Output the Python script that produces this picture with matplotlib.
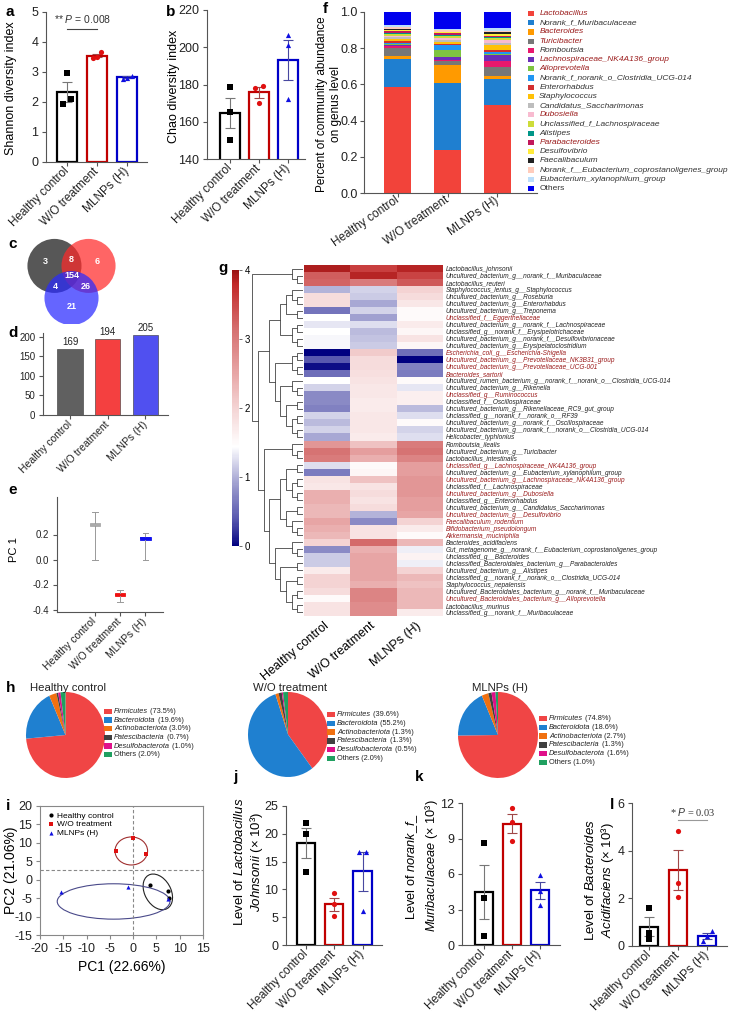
import matplotlib
matplotlib.use("Agg")
import matplotlib.pyplot as plt
import numpy as np
from matplotlib.colors import LinearSegmentedColormap
from matplotlib.patches import Ellipse, Circle, Rectangle

plt.rcParams['font.family'] = ['Liberation Sans', 'DejaVu Sans']
plt.rcParams['mathtext.fontset'] = 'custom'
plt.rcParams['mathtext.rm'] = 'Liberation Sans'
plt.rcParams['mathtext.it'] = 'Liberation Sans:italic'
plt.rcParams['mathtext.bf'] = 'Liberation Sans:bold'
plt.rcParams['axes.unicode_minus'] = False

# ---------------- data ----------------
groups = ["Healthy control", "W/O treatment", "MLNPs (H)"]

shannon = [[2.97, 2.10, 1.93], [3.65, 3.50, 3.47], [2.88, 2.80, 2.78]]
chao = [[178.7, 165.2, 150.2], [179.2, 178.0, 170.0], [206.6, 201.0, 172.0]]

# venn regions: HC only, HC&WO, WO only, all, HC&ML, WO&ML, ML only
venn_counts = [3, 8, 6, 154, 4, 26, 21]
otu_counts = [169, 194, 205]

pc1_med = [0.28, -0.28, 0.17]
pc1_q1 = [0.27, -0.29, 0.16]
pc1_q3 = [0.29, -0.27, 0.18]
pc1_lo = [0.00, -0.34, 0.00]
pc1_hi = [0.38, -0.24, 0.21]

genera = ["Lactobacillus", "Norank_f_Muribaculaceae", "Bacteroides", "Turicibacter",
          "Romboutsia", "Lachnospiraceae_NK4A136_group", "Alloprevotella",
          "Norank_f_norank_o_Clostridia_UCG-014", "Enterorhabdus", "Staphylococcus",
          "Candidatus_Saccharimonas", "Dubosiella", "Unclassified_f_Lachnospiraceae",
          "Alistipes", "Parabacteroides", "Desulfovibrio", "Faecalibaculum",
          "Norank_f__Eubacterium_coprostanoligenes_group", "Eubacterium_xylanophilum_group",
          "Others"]
genus_red = [0, 2, 3, 5, 6, 11, 14]
genus_colors = ["#f2433a", "#1f7fd0", "#ff9a00", "#777777", "#e8186d", "#6a2eb8", "#7ec440",
                "#2196f3", "#d32f2f", "#ffc107", "#bdbdbd", "#f8bbd0", "#cddc39", "#009688",
                "#c2185b", "#ffeb3b", "#212121", "#ffccbc", "#bbdefb", "#0000ee"]
genus_hc = [0.584, 0.154, 0.017, 0.045, 0.012, 0.008, 0.002, 0.008, 0.012, 0.008,
            0.010, 0.010, 0.006, 0.008, 0.010, 0.004, 0.008, 0.010, 0.010, 0.074]
genus_wo = [0.237, 0.369, 0.103, 0.021, 0.005, 0.016, 0.037, 0.031, 0.006, 0.010,
            0.010, 0.012, 0.008, 0.008, 0.012, 0.003, 0.004, 0.010, 0.002, 0.096]
genus_ml = [0.485, 0.143, 0.017, 0.051, 0.031, 0.033, 0.006, 0.015, 0.010, 0.025,
            0.010, 0.020, 0.010, 0.006, 0.006, 0.012, 0.010, 0.005, 0.015, 0.090]

heat_labels = [
    "Lactobacillus_johnsonii", "Uncultured_bacterium_g__norank_f__Muribaculaceae",
    "Lactobacillus_reuteri", "Staphylococcus_lentus_g__Staphylococcus",
    "Uncultured_bacterium_g__Roseburia", "Uncultured_bacterium_g__Enterorhabdus",
    "Uncultured_bacterium_g__Treponema", "Unclassified_f__Eggerthellaceae",
    "Uncultured_bacterium_g__norank_f__Lachnospiraceae", "Unclassified_g__norank_f__Erysipelotrichaceae",
    "Uncultured_bacterium_g__norank_f__Desulfovibrionaceae", "Uncultured_bacterium_g__Erysipelatoclostridium",
    "Escherichia_coli_g__Escherichia-Shigella", "Uncultured_bacterium_g__Prevotellaceae_NK3B31_group",
    "Uncultured_bacterium_g__Prevotellaceae_UCG-001", "Bacteroides_sartorii",
    "Uncultured_rumen_bacterium_g__norank_f__norank_o__Clostridia_UCG-014",
    "Uncultured_bacterium_g__Rikenella", "Unclassified_g__Ruminococcus",
    "Unclassified_f__Oscillospiraceae", "Uncultured_bacterium_g__Rikenellaceae_RC9_gut_group",
    "Unclassified_g__norank_f__norank_o__RF39", "Uncultured_bacterium_g__norank_f__Oscillospiraceae",
    "Uncultured_bacterium_g__norank_f__norank_o__Clostridia_UCG-014", "Helicobacter_typhlonius",
    "Romboutsia_ilealis", "Uncultured_bacterium_g__Turicibacter", "Lactobacillus_intestinalis",
    "Unclassified_g__Lachnospiraceae_NK4A136_group", "Uncultured_bacterium_g__Eubacterium_xylanophilum_group",
    "Uncultured_bacterium_g__Lachnospiraceae_NK4A136_group", "Unclassified_f__Lachnospiraceae",
    "Uncultured_bacterium_g__Dubosiella", "Unclassified_g__Enterorhabdus",
    "Uncultured_bacterium_g__Candidatus_Saccharimonas", "Uncultured_bacterium_g__Desulfovibrio",
    "Faecalibaculum_rodentium", "Bifidobacterium_pseudolongum", "Akkermansia_muciniphila",
    "Bacteroides_acidifaciens", "Gut_metagenome_g__norank_f__Eubacterium_coprostanoligenes_group",
    "Unclassified_g__Bacteroides", "Unclassified_Bacteroidales_bacterium_g__Parabacteroides",
    "Uncultured_bacterium_g__Alistipes", "Unclassified_g__norank_f__norank_o__Clostridia_UCG-014",
    "Staphylococcus_nepalensis", "Uncultured_Bacteroidales_bacterium_g__norank_f__Muribaculaceae",
    "Uncultured_Bacteroidales_bacterium_g__Alloprevotella", "Lactobacillus_murinus",
    "Unclassified_g__norank_f__Muribaculaceae"]
heat_red = [7, 12, 13, 14, 15, 18, 28, 30, 32, 35, 36, 37, 38, 47]
heat_hc = [3.9, 3.3, 3.25, 1.0, 1.9, 1.9, 0.6, 1.45, 1.3, 1.45,
           1.4, 1.4, 0.0, 0.4, 0.05, 0.55, 1.45, 1.2, 0.75, 0.75,
           0.7, 1.2, 1.05, 1.2, 0.95, 2.7, 3.1, 3.0, 1.25, 0.65,
           1.8, 1.75, 2.4, 2.4, 2.3, 2.3, 2.5, 2.4, 2.3, 2.0,
           0.75, 1.15, 1.15, 1.7, 2.0, 2.0, 1.9, 1.5, 1.8, 1.8]
heat_wo = [3.6, 3.85, 3.0, 1.2, 1.15, 0.95, 1.2, 0.9, 1.25, 1.05,
           1.1, 1.15, 2.1, 1.9, 1.9, 1.85, 1.8, 1.75, 1.75, 1.7,
           1.7, 1.75, 1.75, 1.75, 1.7, 2.2, 2.6, 2.4, 1.5, 1.55,
           2.2, 1.8, 1.9, 1.8, 1.9, 1.0, 0.75, 1.8, 1.8, 3.2,
           2.4, 2.5, 2.5, 2.5, 2.5, 2.4, 2.9, 2.9, 2.8, 2.8]
heat_ml = [3.85, 3.55, 3.35, 2.0, 1.9, 1.75, 1.5, 1.5, 1.7, 1.55,
           1.8, 1.55, 0.55, 0.0, 0.7, 0.65, 1.5, 1.3, 1.65, 1.65,
           1.05, 1.25, 1.5, 1.2, 1.25, 3.0, 3.1, 2.9, 2.6, 2.6,
           2.7, 2.7, 2.7, 2.6, 2.6, 2.5, 2.0, 1.7, 1.5, 2.3,
           1.35, 1.6, 1.35, 2.0, 2.3, 2.2, 2.3, 2.3, 2.3, 1.7]
# row clustering tree (row indices)
heat_tree = [[0, [1, 2]],
             [[[[[3, [4, 5]], [6, 7]], [[8, 9], [10, 11]]],
               [[[12, 13], [14, 15]], [[16, [17, 18]], [[19, 20], [[21, 22], [23, 24]]]]]],
              [[25, [26, 27]],
               [[[[28, 29], [[30, 31], [32, 33]]], [[34, 35], [36, [37, 38]]]],
                [[39, [40, 41]], [[42, 43], [[44, 45], [[46, 47], [48, 49]]]]]]]]]

phyla = ["Firmicutes", "Bacteroidota", "Actinobacteriota", "Patescibacteria", "Desulfobacterota", "Others"]
phyla_colors = ["#f04545", "#1f80d0", "#f07010", "#404040", "#e0108a", "#20a060"]
phyla_hc = [73.5, 19.6, 3.0, 0.7, 1.0, 2.0]
phyla_wo = [39.6, 55.2, 1.3, 1.3, 0.5, 2.0]
phyla_ml = [74.8, 18.6, 2.7, 1.3, 1.6, 1.0]

pca_x = [[3.7, 7.4, 7.6], [-3.7, 0.0, 2.7], [-15.4, -1.2, 7.5]]
pca_y = [[-1.4, -3.1, -5.0], [7.9, 11.2, 7.0], [-3.4, -1.9, -5.2]]
ell_cx = [5.3, -0.4, -4.2]
ell_cy = [-3.3, 7.8, -5.9]
ell_w = [5.8, 7.0, 24.2]
ell_h = [10.0, 7.6, 9.6]
ell_ang = [18, 0, 0]

johnsonii = [[22.0, 20.0, 13.2], [9.3, 7.3, 5.3], [16.8, 16.8, 6.1]]
muribac = [[8.6, 4.0, 0.76], [11.6, 10.4, 8.8], [5.9, 4.6, 3.4]]
acidif = [[1.6, 0.55, 0.28], [4.83, 2.64, 2.07], [0.65, 0.42, 0.22]]

# ---------------- helpers ----------------
W, H = 732, 1015
fig = plt.figure(figsize=(W / 100, H / 100), dpi=100)

def box(l, t, r, b):
    return fig.add_axes([l / W, 1 - b / H, (r - l) / W, (b - t) / H])

def ftext(x, y, s, **kw):
    return fig.text(x / W, 1 - y / H, s, **kw)

def style(ax, size=9, pad=2.5):
    ax.spines['top'].set_visible(False)
    ax.spines['right'].set_visible(False)
    for s in ('left', 'bottom'):
        ax.spines[s].set_color('#555555')
        ax.spines[s].set_linewidth(0.8)
    ax.tick_params(color='#555555', labelcolor='#222222', labelsize=size, width=0.8, length=3, pad=pad)

def group_ticks(ax, size=8.5, rot=45):
    ax.set_xticks(range(3))
    ax.set_xticklabels(groups, rotation=rot, ha='right', va='center', rotation_mode='anchor', fontsize=size)

def spread(vals, span):
    vals = np.asarray(vals, dtype=float)
    off = np.zeros(len(vals))
    order = np.argsort(vals)
    for a, b in zip(order[:-1], order[1:]):
        if abs(vals[b] - vals[a]) < 0.04 * span:
            off[a] -= 0.14
            off[b] += 0.14
    return off

edge_cols = ['#000000', '#c00000', '#0000c8']
dot_cols = ['#000000', '#e01010', '#1010e0']
err_cols = ['#777777', '#a04848', '#4848a0']
markers = ['s', 'o', '^']

def dot_bars(ax, pts, span, width=0.66):
    for i, p in enumerate(pts):
        p = np.asarray(p)
        m = p.mean()
        se = p.std(ddof=1) / np.sqrt(len(p))
        ax.bar(i, m, width=width, color='white', edgecolor=edge_cols[i], linewidth=1.6, zorder=2)
        ax.errorbar(i, m, yerr=se, color=err_cols[i], lw=0.8, capsize=3.5, capthick=0.8, zorder=3)
        ax.scatter(i + spread(p, span), p, marker=markers[i], s=14, color=dot_cols[i], zorder=4, linewidths=0)

def panel_label(x, y, s):
    ftext(x, y, s, fontsize=11, fontweight='bold', va='center', ha='left')

# ---------------- a ----------------
ax = box(46, 12, 147, 162)
dot_bars(ax, shannon, 5)
style(ax)
ax.set_xlim(-0.7, 2.65)
ax.set_ylim(0, 5)
ax.set_yticks(range(6))
group_ticks(ax)
ax.plot([0, 1], [4.43, 4.43], color='#444444', lw=0.8)
ax.text(0.5, 4.75, r"** $\it{P}$ = 0.008", ha='center', va='center', fontsize=7.5, color='#333333')
ftext(11, 88, "Shannon diversity index", rotation=90, ha='center', va='center', fontsize=9)
panel_label(6, 12, "a")

# ---------------- b ----------------
ax = box(207, 10, 305, 159)
dot_bars(ax, chao, 80, width=0.69)
style(ax)
ax.set_xlim(-0.8, 2.6)
ax.set_ylim(140, 220)
ax.set_yticks([140, 160, 180, 200, 220])
group_ticks(ax)
ftext(174, 86, "Chao diversity index", rotation=90, ha='center', va='center', fontsize=9)
panel_label(166, 12, "b")

# ---------------- c (venn) ----------------
ax = box(25, 237, 118, 324)
ax.set_xlim(-1.72, 1.72)
ax.set_ylim(-1.74, 1.48)
ax.axis('off')
ax.add_patch(Circle((-0.63, 0.41), 1.0, color='#3a3a3a', alpha=0.85, lw=0))
ax.add_patch(Circle((0.63, 0.41), 1.0, color='#ff2a2a', alpha=0.72, lw=0))
ax.add_patch(Circle((0.0, -0.78), 1.0, color='#2a2aff', alpha=0.72, lw=0))
venn_pos = [(-0.96, 0.59), (0.0, 0.63), (0.96, 0.59), (0.0, 0.07), (-0.59, -0.37), (0.52, -0.37), (0.0, -1.1)]
for (vx, vy), n in zip(venn_pos, venn_counts):
    ax.text(vx, vy, str(n), color='white', fontsize=6.5, fontweight='bold', ha='center', va='center')
panel_label(8, 244, "c")

# ---------------- d ----------------
ax = box(43, 333, 168, 415)
ax.bar(range(3), otu_counts, width=0.67, color=['#606060', '#f44040', '#5050f0'], edgecolor='#333333', linewidth=0.4)
for i, v in enumerate(otu_counts):
    ax.text(i, v + 5, str(v), ha='center', va='bottom', fontsize=7, color='#222222')
style(ax, 7)
ax.set_xlim(-0.72, 2.6)
ax.set_ylim(0, 210)
ax.set_yticks([0, 50, 100, 150, 200])
group_ticks(ax, 7.5)
panel_label(8, 333, "d")

# ---------------- e ----------------
ax = box(57, 497, 163, 612)
stats = [dict(med=pc1_med[i], q1=pc1_q1[i], q3=pc1_q3[i], whislo=pc1_lo[i], whishi=pc1_hi[i]) for i in range(3)]
bp = ax.bxp(stats, positions=[0, 1, 2], widths=0.42, showfliers=False, patch_artist=True, manage_ticks=False)
box_cols = ['#aaaaaa', '#ee1111', '#1111ee']
for i in range(3):
    bp['boxes'][i].set(facecolor=box_cols[i], edgecolor=box_cols[i], linewidth=0.6)
    bp['medians'][i].set(color=box_cols[i], linewidth=1.2)
    for k in (2 * i, 2 * i + 1):
        bp['whiskers'][k].set(color='#999999', linewidth=0.7)
        bp['caps'][k].set(color='#999999', linewidth=0.7)
style(ax, 7)
ax.set_xlim(-1.5, 2.7)
ax.set_ylim(-0.42, 0.5)
ax.set_yticks([-0.4, -0.2, 0.0, 0.2])
group_ticks(ax, 7.5)
ftext(14, 550, "PC 1", rotation=90, ha='center', va='center', fontsize=8)
panel_label(8, 490, "e")

# ---------------- f ----------------
ax = box(364, 12, 537, 193)
stack = np.array([genus_hc, genus_wo, genus_ml])
bottom = np.zeros(3)
for j in range(len(genera)):
    ax.bar(range(3), stack[:, j], bottom=bottom, width=0.54, color=genus_colors[j], linewidth=0)
    bottom += stack[:, j]
style(ax, 9, pad=1.5)
ax.set_xlim(-0.68, 2.8)
ax.set_ylim(0, 1.0)
ax.set_yticks(np.arange(0, 1.01, 0.2))
ax.set_yticklabels([f"{v:.1f}" for v in np.arange(0, 1.01, 0.2)])
group_ticks(ax, 8.5, rot=35)
ftext(329, 104, "Percent of community abundance\non genus level", rotation=90, ha='center', va='center',
      fontsize=8.5, multialignment='center', linespacing=1.15)
panel_label(323, 9, "f")
lax = box(526, 9, 730, 193)
lax.axis('off')
lax.set_xlim(0, 1)
lax.set_ylim(len(genera), 0)
for j, name in enumerate(genera):
    lax.add_patch(Rectangle((0.01, j + 0.22), 0.028, 0.56, color=genus_colors[j], lw=0))
    lax.text(0.065, j + 0.5, name, va='center', ha='left', fontsize=6.0,
             style='normal' if name == 'Others' else 'italic',
             color='#9b1b1b' if j in genus_red else '#333333')

# ---------------- g ----------------
heat = np.array([heat_hc, heat_wo, heat_ml]).T
cmap = LinearSegmentedColormap.from_list('heat', [
    (0.0, '#000080'), (0.03, '#202090'), (0.1, '#5a5ab0'), (0.2, '#9090c8'), (0.3, '#d4d4ea'),
    (0.36, '#ffffff'), (0.5, '#f4d4d4'), (0.62, '#e8a8a8'), (0.78, '#d67272'), (0.95, '#c22a2a'),
    (1.0, '#9a1414')])
ax = box(304, 265, 443, 616)
mesh = ax.pcolormesh(np.arange(4), np.arange(len(heat_labels) + 1), heat, cmap=cmap, vmin=0, vmax=4)
ax.set_ylim(len(heat_labels), 0)
ax.set_xlim(0, 3)
for s in ax.spines.values():
    s.set_visible(False)
ax.yaxis.tick_right()
ax.set_yticks(np.arange(len(heat_labels)) + 0.5)
ax.set_yticklabels(heat_labels, fontsize=4.7, style='italic')
for i, t in enumerate(ax.get_yticklabels()):
    t.set_color('#9b1b1b' if i in heat_red else '#222222')
ax.set_xticks([0.5, 1.5, 2.5])
ax.set_xticklabels(groups, rotation=40, ha='right', va='center', rotation_mode='anchor', fontsize=9)
ax.tick_params(length=0, pad=2)
ax.tick_params(axis='x', pad=6)

dax = box(252, 265, 303, 616)
dax.axis('off')
dax.set_ylim(len(heat_labels), 0)

def draw_tree(node):
    if isinstance(node, int):
        return node + 0.5, 0.0
    y1, h1 = draw_tree(node[0])
    y2, h2 = draw_tree(node[1])
    h = max(h1, h2) + 1
    dax.plot([h1, h, h, h2], [y1, y1, y2, y2], color='#444444', lw=0.6)
    return (y1 + y2) / 2, h

_, root_h = draw_tree(heat_tree)
dax.set_xlim(root_h + 0.05, 0)

cax = box(232, 270, 239, 546)
cb = fig.colorbar(mesh, cax=cax, ticks=[0, 1, 2, 3, 4])
cb.outline.set_visible(False)
cax.tick_params(labelsize=7, length=2, width=0.6, color='#555555', pad=2)
panel_label(218, 268, "g")

# ---------------- h ----------------
def pie_panel(bx, vals, title, tx, lbox):
    pax = box(*bx)
    pax.pie(vals, colors=phyla_colors, startangle=90, counterclock=False, wedgeprops=dict(linewidth=0))
    pax.set_aspect('auto')
    pax.set_xlim(-1, 1)
    pax.set_ylim(-1, 1)
    ftext(tx, 688, title, fontsize=8.2, va='center', ha='left', color='#222222')
    lx = box(*lbox)
    lx.axis('off')
    lx.set_xlim(0, 1)
    lx.set_ylim(len(phyla), 0)
    for i, (name, v) in enumerate(zip(phyla, vals)):
        lx.add_patch(Rectangle((0.0, i + 0.2), 0.08, 0.6, color=phyla_colors[i], lw=0))
        if name == 'Others':
            lx.text(0.1, i + 0.5, f"{name} ({v:.1f}%)", fontsize=5.3, va='center', ha='left', color='#222222')
        else:
            t = lx.text(0.1, i + 0.5, name, fontsize=5.3, style='italic', va='center', ha='left', color='#222222')
            lx.annotate(f" ({v:.1f}%)", xy=(1, 0.5), xycoords=t, fontsize=5.3, va='center', ha='left',
                        color='#222222')

pie_panel((26, 692, 105, 778), phyla_hc, "Healthy control", 30, (104, 707, 204, 759))
pie_panel((248, 692, 328, 777), phyla_wo, "W/O treatment", 253, (327, 710, 427, 763))
pie_panel((458, 692, 538, 778), phyla_ml, "MLNPs (H)", 472, (539, 714, 639, 767))
panel_label(6, 688, "h")

# ---------------- i ----------------
ax = box(40, 806, 203, 935)
ax.axvline(0, color='#888888', ls='--', lw=0.8, dashes=(3, 2))
ax.axhline(2.6, color='#888888', ls='--', lw=0.8, dashes=(3, 2))
ell_cols = ['#222222', '#a03030', '#4a4a8a']
for i in range(3):
    ax.add_patch(Ellipse((ell_cx[i], ell_cy[i]), ell_w[i], ell_h[i], angle=ell_ang[i], fill=False,
                         ec=ell_cols[i], lw=0.8))
    ax.scatter(pca_x[i], pca_y[i], marker=['o', 's', '^'][i], s=9, color=dot_cols[i], zorder=3,
               label=groups[i], linewidths=0)
ax.set_xlim(-20, 15)
ax.set_ylim(-15, 20)
ax.set_xticks(range(-20, 16, 5))
ax.set_yticks(range(-15, 21, 5))
for s in ax.spines.values():
    s.set_color('#888888')
    s.set_linewidth(0.8)
ax.tick_params(color='#888888', labelcolor='#222222', labelsize=9, width=0.8, length=3, pad=2.5)
ax.legend(loc='upper left', fontsize=6, frameon=False, handletextpad=0.1, labelspacing=0.1,
          borderaxespad=0.3, borderpad=0.4, markerscale=1.0, handlelength=1.2)
ax.set_xlabel("PC1 (22.66%)", fontsize=10, labelpad=4)
ftext(11, 870, "PC2 (21.06%)", rotation=90, ha='center', va='center', fontsize=10)
panel_label(6, 806, "i")

# ---------------- j ----------------
ax = box(286, 806, 382, 945)
dot_bars(ax, johnsonii, 25, width=0.65)
style(ax)
ax.set_xlim(-0.71, 2.69)
ax.set_ylim(0, 25)
ax.set_yticks(range(0, 26, 5))
group_ticks(ax)
ftext(249, 862, "Level of $\\it{Lactobacillus}$\n$\\it{Johnsonii}$ (× 10³)", rotation=90, ha='center',
      va='center', fontsize=9.5, multialignment='center')
panel_label(233, 777, "j")

# ---------------- k ----------------
ax = box(462, 803, 560, 945)
dot_bars(ax, muribac, 12, width=0.64)
style(ax)
ax.set_xlim(-0.77, 2.73)
ax.set_ylim(0, 12)
ax.set_yticks([0, 3, 6, 9, 12])
group_ticks(ax)
ftext(422, 866, "Level of $\\it{norank\\_f\\_}$\n$\\it{Muribaculaceae}$ (× 10³)", rotation=90, ha='center',
      va='center', fontsize=9.2, multialignment='center')
panel_label(415, 777, "k")

# ---------------- l ----------------
ax = box(632, 803, 727, 946)
dot_bars(ax, acidif, 6, width=0.62)
style(ax)
ax.set_xlim(-0.58, 2.67)
ax.set_ylim(0, 6)
ax.set_yticks([0, 2, 4, 6])
group_ticks(ax)
ax.plot([1, 2], [5.3, 5.3], color='#999999', lw=0.8)
ax.text(1.5, 5.62, "* $\\it{P}$ = 0.03", ha='center', va='center', fontsize=7.5, color='#333333',
        family='Liberation Serif')
ftext(600, 880, "Level of $\\it{Bacteroides}$\n$\\it{Acidifaciens}$ (× 10³)", rotation=90, ha='center',
      va='center', fontsize=9.5, multialignment='center')
panel_label(610, 805, "l")

fig.savefig("out.png", dpi=100)
